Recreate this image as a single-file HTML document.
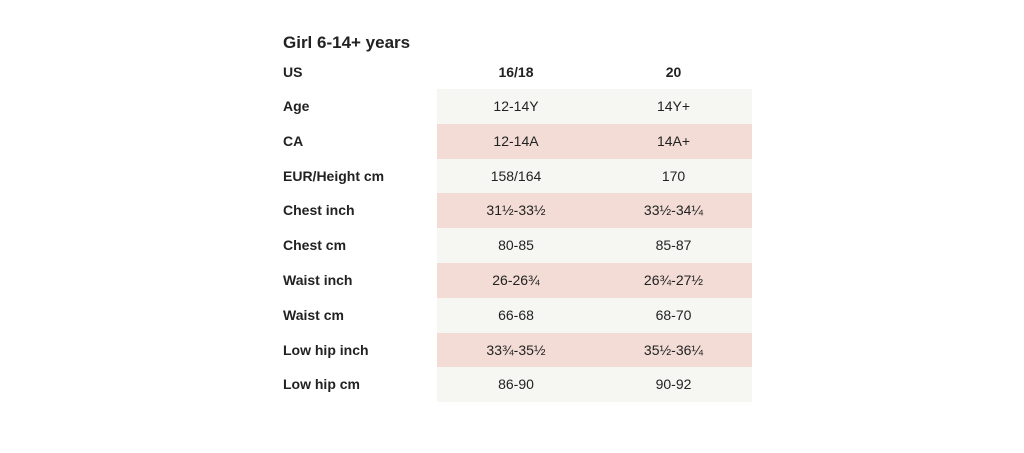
<!DOCTYPE html>
<html><head><meta charset="utf-8">
<style>
html,body{margin:0;padding:0;background:#fff;}
body{width:1024px;height:453px;position:relative;overflow:hidden;font-family:"Liberation Sans","DejaVu Sans",sans-serif;color:#222;}
.title{position:absolute;left:283px;top:33px;font-size:17px;font-weight:bold;}
.row{position:absolute;left:0;width:1024px;height:35px;}
.lab{position:absolute;left:283px;top:0;line-height:35px;font-size:14px;font-weight:bold;}
.cells{position:absolute;left:437px;width:315px;top:0;height:35px;}
.c{position:absolute;top:0;line-height:35px;font-size:14px;text-align:center;width:160px;}
.c1{left:0px;width:158px;}
.c2{left:158px;width:157px;}
.light{background:#f6f6f2;}
.pink{background:#f2dcd5;}
.hdr .c{font-weight:bold;}
</style></head>
<body>
<div class="title">Girl 6-14+ years</div>
<div class="row hdr" style="top:55px">
 <div class="lab">US</div>
 <div class="cells"><div class="c c1">16/18</div><div class="c c2">20</div></div>
</div>
<div id="rows"></div>
<script>
const labels=["Age","CA","EUR/Height cm","Chest inch","Chest cm","Waist inch","Waist cm","Low hip inch","Low hip cm"];
const col1=["12-14Y","12-14A","158/164","31½-33½","80-85","26-26¾","66-68","33¾-35½","86-90"];
const col2=["14Y+","14A+","170","33½-34¼","85-87","26¾-27½","68-70","35½-36¼","90-92"];
const wrap=document.getElementById('rows');
labels.forEach((l,i)=>{
 const r=document.createElement('div');
 r.className='row';
 r.style.top=(89+i*34.8)+'px';
 
 
 const lab=document.createElement('div');
 lab.className='lab';lab.textContent=l;
 
 
 const cells=document.createElement('div');
 cells.className='cells '+(i%2?'pink':'light');
 
 
 const a=document.createElement('div');a.className='c c1';a.textContent=col1[i];
 
 
 const b=document.createElement('div');b.className='c c2';b.textContent=col2[i];
 
 
 cells.appendChild(a);cells.appendChild(b);
 r.appendChild(lab);r.appendChild(cells);wrap.appendChild(r);
});
</script>
</body></html>
